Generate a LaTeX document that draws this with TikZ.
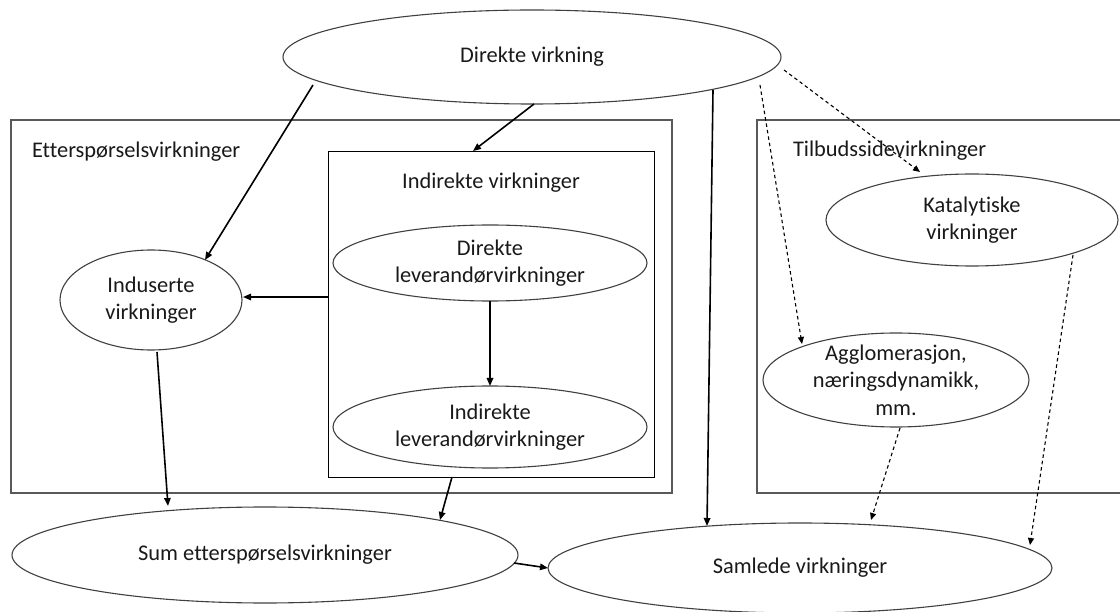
\documentclass[tikz,border=0pt]{standalone}
\usepackage{fontspec}
\setmainfont{Carlito}[Ligatures={NoCommon}]
\usetikzlibrary{arrows.meta,calc,shapes.geometric}
\begin{document}
\begin{tikzpicture}[x=1pt,y=-1pt,
  every node/.style={font=\fontsize{22.4}{27.5}\selectfont, text=black!90, outer sep=0pt},
  ell/.style={ellipse, draw=black!75, line width=1.1pt, inner sep=0pt, align=center},
  outerbox/.style={draw=black!65, line width=1.4pt, inner sep=0pt, anchor=north west},
  innerbox/.style={draw=black, line width=0.9pt, inner sep=0pt, anchor=north west},
  lbl/.style={inner sep=0pt},
  arr/.style={-{Triangle[length=8pt,width=6.5pt]}, line width=1.6pt, black},
  darr/.style={-{Triangle[length=7pt,width=6pt]}, line width=1.1pt, black, dash pattern=on 3.5pt off 3pt}
]
\clip (0,0) rectangle (1120,612);
% frames
\node[outerbox, minimum width=661pt, minimum height=373pt] (etter) at (11,120) {};
\node[innerbox, minimum width=326pt, minimum height=326pt] (indbox) at (328,151) {};
\node[outerbox, minimum width=372pt, minimum height=373pt] (tilbud) at (757,120) {};
\node[lbl, anchor=west] (etterT) at (32,152) {Etterspørselsvirkninger};
\node[lbl, anchor=west] (tilbudT) at (793,151) {Tilbudssidevirkninger};
\node[lbl] (indboxT) at (491,183) {Indirekte virkninger};
% ellipses
\node[ell, minimum width=498pt, minimum height=94pt] (dv) at (532,57) {Direkte virkning};
\node[ell, minimum width=182pt, minimum height=100pt] (ind) at (151,300) {Induserte\\virkninger};
\node[ell, minimum width=314pt, minimum height=76pt] (dlev) at (490,263) {Direkte\\leverandørvirkninger};
\node[ell, minimum width=314pt, minimum height=82pt] (ilev) at (490,427) {Indirekte\\leverandørvirkninger};
\node[ell, minimum width=292pt, minimum height=92pt] (kat) at (972,220) {Katalytiske\\virkninger};
\node[ell, minimum width=266pt, minimum height=94pt, inner ysep=-16pt] (agg) at (896,380) {Agglomerasjon,\\næringsdynamikk,\\mm.};
\node[ell, minimum width=506pt, minimum height=96pt] (sum) at (265,555) {Sum etterspørselsvirkninger};
\node[ell, minimum width=504pt, minimum height=90pt] (sam) at (800,568) {Samlede virkninger};
% connectors
\draw[arr] ($(dv)+(-219,28)$) -- ($(ind)+(54,-40)$);
\draw[arr] ($(dv)+(2,47)$) -- ($(indbox.north)+(-18,0)$);
\draw[arr] ($(dv)+(181,33)$) -- ($(sam)+(-93,-42)$);
\draw[darr] ($(dv)+(228,28)$) -- ($(agg)+(-94,-36)$);
\draw[darr] ($(dv)+(252,13)$) -- ($(kat)+(-52,-48)$);
\draw[darr] ($(kat)+(101,35)$) -- ($(sam)+(230,-23)$);
\draw[darr] ($(agg)+(4,48)$) -- ($(sam)+(71,-48)$);
\draw[arr] ($(indbox.west)+(0,-17)$) -- ($(ind)+(92,-3)$);
\draw[arr] ($(ind)+(6,52)$) -- ($(sum)+(-97,-49)$);
\draw[arr] ($(indbox.south)+(-39,0)$) -- ($(sum)+(175,-35)$);
\draw[arr] (dlev.south) -- (ilev.north);
\draw[arr] ($(sum)+(249,8)$) -- (sam.west);
\end{tikzpicture}
\end{document}
